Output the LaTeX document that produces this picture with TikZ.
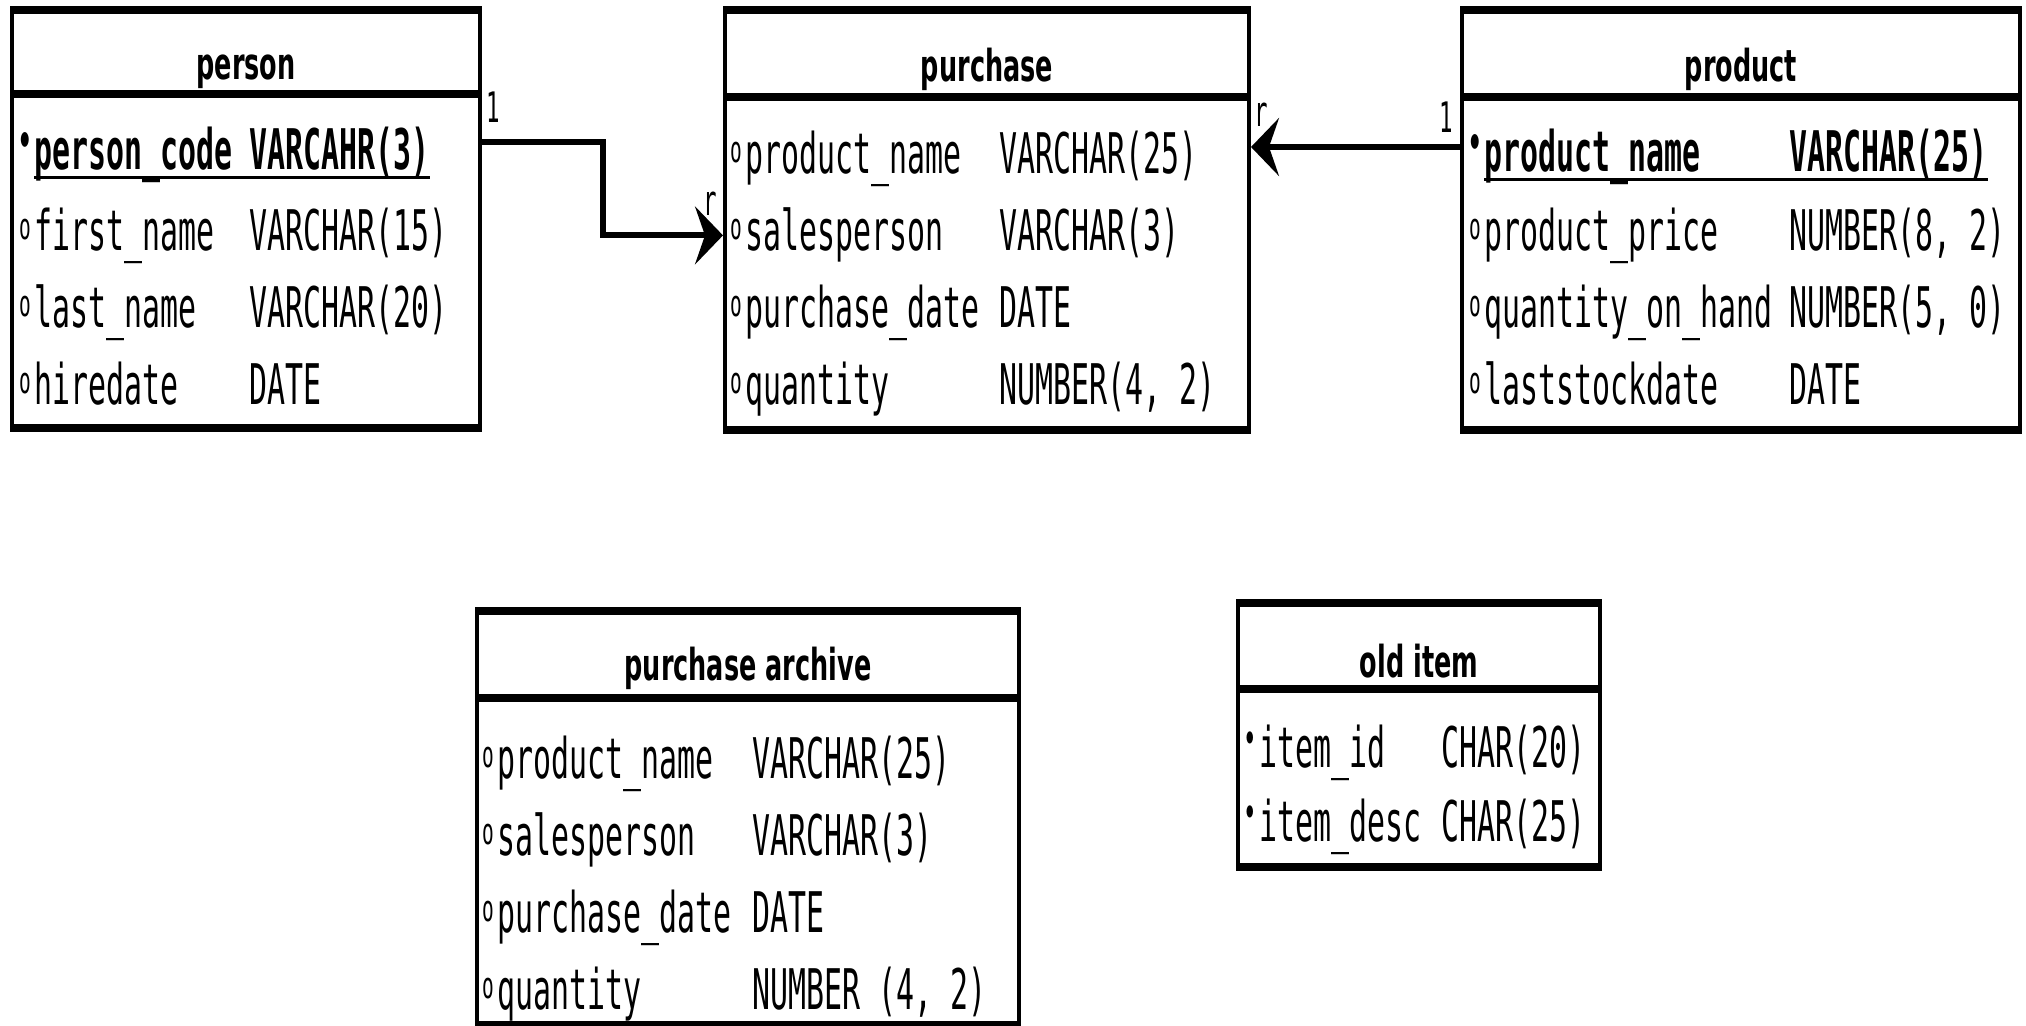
\documentclass[tikz,border=0pt]{standalone}
\usepackage{fontspec}
\newfontfamily\colfont[FakeStretch=0.534]{DejaVu Sans Mono}
\newfontfamily\titlefont[FakeStretch=0.58]{DejaVu Sans}
\usetikzlibrary{arrows.meta}
\usetikzlibrary{calc}
\newcommand{\opt}{\makebox[9pt][c]{\raisebox{5.5pt}{\scalebox{.65}{o}}}}
\newcommand{\pk}{\makebox[9pt][c]{\raisebox{7pt}{\scalebox{.75}{•}}}}

\tikzset{
  tbl/.style={draw, line width=2pt, anchor=north west, inner sep=0pt},
  bar/.style={line width=4pt},
  ttl/.style={anchor=base, inner sep=0pt, font=\titlefont\bfseries\fontsize{22}{24}\selectfont},
  col/.style={anchor=base west, inner sep=0pt, font=\colfont\fontsize{28}{30}\selectfont},
  keycol/.style={col, font=\colfont\bfseries\fontsize{28}{30}\selectfont},
  uline/.style={line width=1.5pt},
  card/.style={inner sep=0pt, font=\colfont\fontsize{21}{22}\selectfont},
  fk/.style={line width=3pt, -{Stealth[length=14pt,width=29pt,inset=5pt]}},
}

\begin{document}
\begin{tikzpicture}[x=0.5pt, y=-0.5pt]
\useasboundingbox (0,0) rectangle (2026,1026);

% tables
\node[tbl, minimum width=234pt, minimum height=207pt] (person) at (10,10) {};
\node[tbl, minimum width=262pt, minimum height=208pt] (purchase) at (723,10) {};
\node[tbl, minimum width=279pt, minimum height=208pt] (product) at (1460,10) {};
\node[tbl, minimum width=271pt, minimum height=205pt] (archive) at (475,611) {};
\node[tbl, minimum width=181pt, minimum height=130pt] (olditem) at (1236,603) {};
\foreach \t/\h in {person/84, purchase/87, product/87, archive/87, olditem/86} {
  \draw[bar] (\t.north west) -- (\t.north east);
  \draw[bar] ($(\t.north west)+(0,\h)$) -- ($(\t.north east)+(0,\h)$);
  \draw[bar] (\t.south west) -- (\t.south east);
}

\node[ttl] (person-title) at ($(person.north)+(0,70)$) {person};
\node[ttl] (purchase-title) at ($(purchase.north)+(0,72)$) {purchase};
\node[ttl] (product-title) at ($(product.north)+(0,72)$) {product};
\node[ttl] (archive-title) at ($(archive.north)+(0,70)$) {purchase archive};
\node[ttl] (olditem-title) at ($(olditem.north)+(0,74)$) {old item};

% person
\node[keycol] (person-1) at ($(person.north west)+(6,160)$) {\pk person\_code};
\node[keycol] (person-1t) at ($(person.north west)+(239,160)$) {VARCAHR(3)};
\draw[uline] ($(person-1.base west)+(18,8)$) -- ($(person-1t.base east)+(0,8)$);
\foreach \n/\ty [count=\i from 2] in {first\_name/VARCHAR(15), last\_name/VARCHAR(20), hiredate/DATE} {
  \node[col] (person-\i) at ($(person.north west)+(6,{87+77*\i})$) {\opt\n};
  \node[col] (person-\i t) at ($(person.north west)+(239,{87+77*\i})$) {\ty};
}

% purchase
\foreach \n/\ty [count=\i] in {product\_name/VARCHAR(25), salesperson/VARCHAR(3), purchase\_date/DATE, quantity/{NUMBER(4, 2)}} {
  \node[col] (purchase-\i) at ($(purchase.north west)+(4,{87+77*\i})$) {\opt\n};
  \node[col] (purchase-\i t) at ($(purchase.north west)+(276,{87+77*\i})$) {\ty};
}

% product
\node[keycol] (product-1) at ($(product.north west)+(6,162)$) {\pk product\_name};
\node[keycol] (product-1t) at ($(product.north west)+(329,162)$) {VARCHAR(25)};
\draw[uline] ($(product-1.base west)+(18,8)$) -- ($(product-1t.base east)+(0,8)$);
\foreach \n/\ty [count=\i from 2] in {product\_price/{NUMBER(8, 2)}, quantity\_on\_hand/{NUMBER(5, 0)}, laststockdate/DATE} {
  \node[col] (product-\i) at ($(product.north west)+(6,{87+77*\i})$) {\opt\n};
  \node[col] (product-\i t) at ($(product.north west)+(329,{87+77*\i})$) {\ty};
}

% purchase archive
\foreach \n/\ty [count=\i] in {product\_name/VARCHAR(25), salesperson/VARCHAR(3), purchase\_date/DATE, quantity/{NUMBER (4, 2)}} {
  \node[col] (archive-\i) at ($(archive.north west)+(4,{90+77*\i})$) {\opt\n};
  \node[col] (archive-\i t) at ($(archive.north west)+(277,{90+77*\i})$) {\ty};
}

% old item
\foreach \n/\ty [count=\i] in {item\_id/CHAR(20), item\_desc/CHAR(25)} {
  \node[col] (olditem-\i) at ($(olditem.north west)+(5,{90+74*\i})$) {\pk\n};
  \node[col] (olditem-\i t) at ($(olditem.north west)+(205,{90+74*\i})$) {\ty};
}

% relations
\coordinate (person-out) at ($(person.north east)+(0,132)$);
\coordinate (product-out) at ($(product.north west)+(0,137)$);
\coordinate (bend) at ($(person.east)!0.5!(purchase.west)$);
\draw[fk] (person-out) -| (bend |- purchase-2.west) -- (purchase.west |- purchase-2.west);
\draw[fk] (product-out) -- (purchase.east |- product-out);

\node[card] (person-card) at (493,107) {1};
\node[card] (purchase-card-l) at (710,204) {r};
\node[card] (product-card) at (1446,117) {1};
\node[card] (purchase-card-r) at (1261,115) {r};
\end{tikzpicture}
\end{document}
